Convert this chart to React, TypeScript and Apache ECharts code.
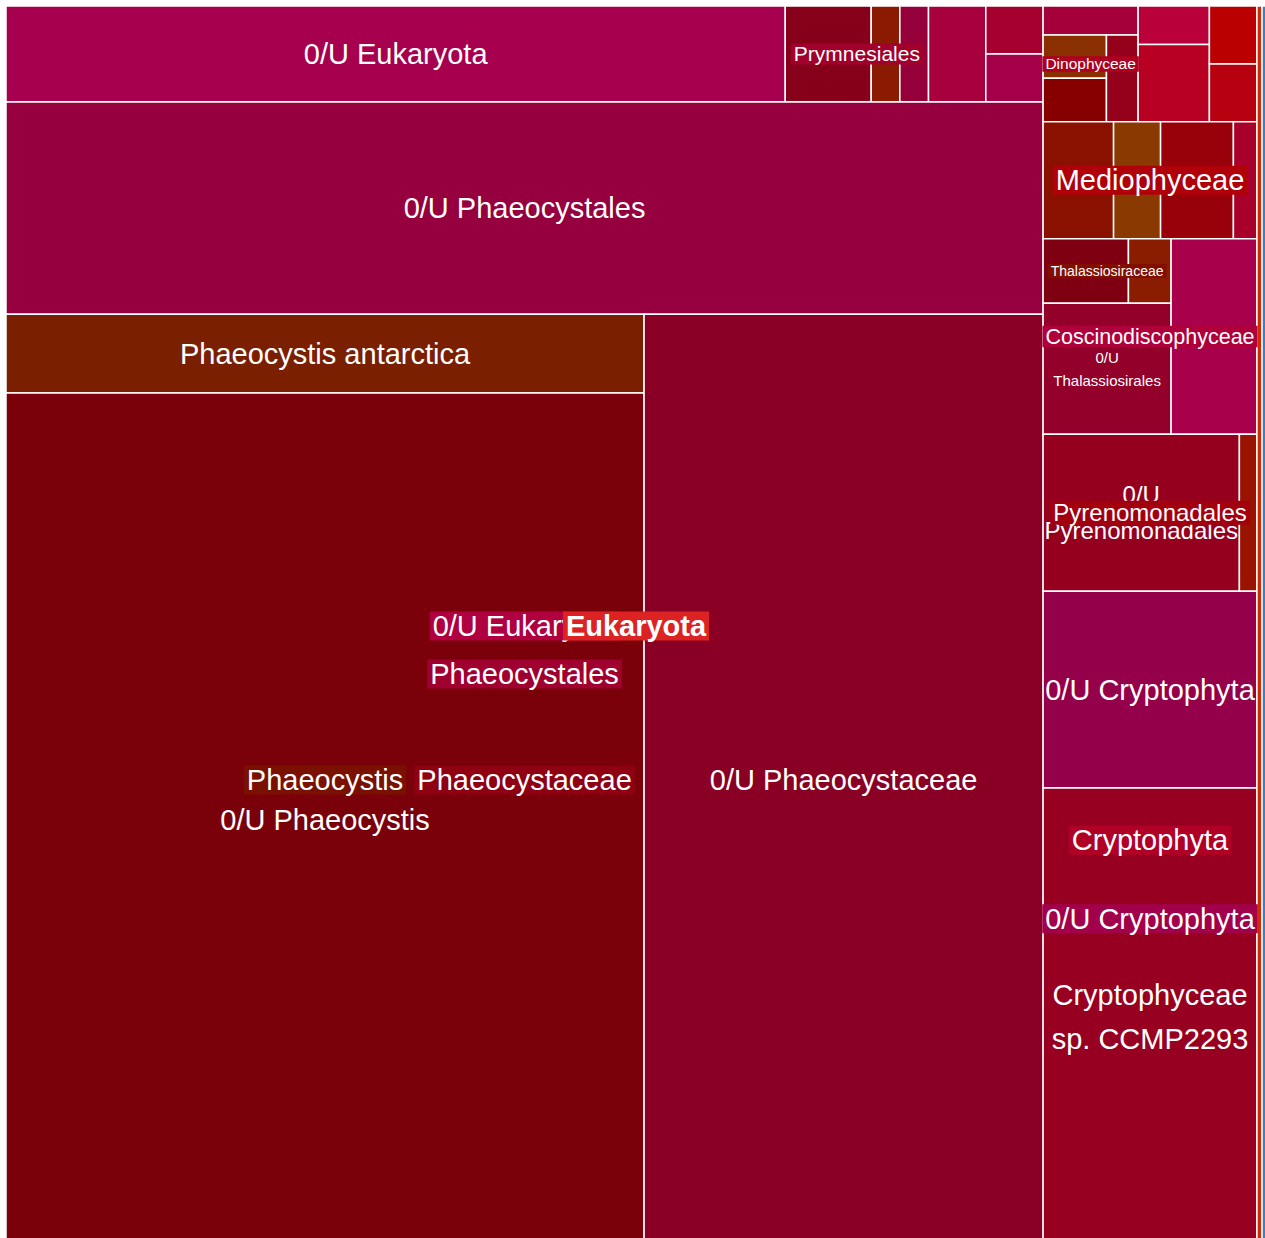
import React, { useEffect, useRef } from 'react';
import * as echarts from 'echarts';

// ---- Data: taxonomy tree (flat table: name, parent index, leaf value) ----
const nodeNames: string[] = [
  'Eukaryota', // 0
  '0/U Eukaryota', // 1 (group)
  'Prymnesiophyceae', // 2
  '0/U Eukaryota', // 3 (leaf)
  'Prymnesiales', // 4
  'Chrysochromulinaceae', // 5
  'Prymnesiaceae', // 6
  '0/U Prymnesiales', // 7
  'Isochrysidales', // 8
  'Coccolithales', // 9
  'Coccolithaceae', // 10
  'Pleurochrysidaceae', // 11
  'Phaeocystales', // 12
  '0/U Phaeocystales', // 13
  'Phaeocystaceae', // 14
  'Phaeocystis', // 15
  'Phaeocystis antarctica', // 16
  '0/U Phaeocystis', // 17
  '0/U Phaeocystaceae', // 18
  'Diaphoretickes', // 19
  'SAR', // 20
  'Alveolata', // 21
  'Dinophyceae', // 22
  'Gymnodiniales', // 23
  'Peridiniphycidae', // 24
  'Peridiniales group', // 25
  'Suessiales', // 26
  'Peridiniales', // 27
  '0/U Dinophyceae', // 28
  'Ciliophora', // 29
  'Spirotrichea', // 30
  'Oligohymenophorea', // 31
  'Syndiniales', // 32
  'Dino-Group I', // 33
  'Dino-Group II', // 34
  'Bacillariophyta', // 35
  'Mediophyceae', // 36
  'Chaetocerotales', // 37
  'Eupodiscales', // 38
  '0/U Mediophyceae', // 39
  'Cymatosirales', // 40
  'Coscinodiscophyceae', // 41
  'Thalassiosirales', // 42
  'Thalassiosiraceae', // 43
  'Thalassiosira', // 44
  'Skeletonema', // 45
  '0/U Thalassiosirales', // 46
  'Coscinodiscales', // 47
  'Cryptophyta', // 48
  'Pyrenomonadales', // 49
  '0/U Pyrenomonadales', // 50
  'Geminigeraceae', // 51
  '0/U Cryptophyta', // 52 (group)
  '0/U Cryptophyta', // 53 (leaf)
  'Cryptophyceae sp. CCMP2293', // 54
  'Chlorophyta', // 55
  'Discoba', // 56
];

const nodeParents: number[] = [
  -1, 0, 1, 2, 2, 4, 4, 4, 2, 2, 9, 9, 1, 12, 12, 14, 15, 15, 14,
  0, 19, 20, 21, 22, 22, 24, 25, 25, 24, 21, 29, 29, 21, 32, 32,
  20, 35, 36, 36, 36, 36, 35, 41, 42, 43, 43, 42, 41,
  19, 48, 49, 49, 48, 52, 52,
  0, 0,
];

// leaf abundances (0 for inner nodes)
const nodeValues: number[] = [
  0, 0, 0, 27.2, 0, 3.0, 1.0, 1.0, 2.0, 0, 1.0, 1.0, 0, 80.0, 0, 0, 18.3, 197.9, 135.2,
  0, 0, 0, 0, 1.0, 0, 0, 1.0, 1.0, 1.0, 0, 1.0, 2.0, 0, 1.0, 1.0,
  0, 0, 3.0, 2.0, 3.1, 1.0, 0, 0, 0, 2.0, 1.0, 6.1, 6.1,
  0, 0, 11.2, 1.0, 0, 15.3, 35.6,
  2.3, 1.8,
];

// ---- Styles ----
const tileColors: (string | null)[] = [
  null, null, null, '#A7004F', null, '#86001A', '#8A1A00', '#96003A', '#A8003F', null, '#A5002F', '#A5004A',
  null, '#96003F', null, null, '#7A1F00', '#7A0009', '#890024',
  null, null, null, null, '#A5003A', null, null, '#8A3000', '#870000', '#95001A', null, '#B9003A', '#B70022',
  null, '#BA0000', '#B70010',
  null, null, '#8A1000', '#8A3A00', '#98000A', '#A8002A', null, null, null, '#7F0010', '#8A1C00', '#93002A', '#A8004A',
  null, null, '#95001F', '#9A1200', null, '#95004B', '#970020',
  '#D22A00', '#3A80C0',
];

const labelSizes: number[] = [
  29, 29, 0, 29, 21, 0, 0, 0, 0, 0, 0, 0, 29, 29, 29, 29, 29, 29, 29,
  0, 0, 0, 15.5, 0, 0, 0, 0, 0, 0, 0, 0, 0, 0, 0, 0,
  0, 29, 0, 0, 0, 0, 21.5, 0, 14, 0, 0, 15, 0,
  29, 24, 24, 0, 29, 29, 29,
  0, 0,
];

const labelBackgrounds: (string | null)[] = [
  '#DC2222', '#B0003F', null, null, '#A2002C', null, null, null, null, null, null, null,
  '#A0002F', null, '#8E0012', '#7A1000', null, null, null,
  null, null, null, '#AE0020', null, null, null, null, null, null, null, null, null, null, null, null,
  null, '#B0000A', null, null, null, null, '#B0003C', null, '#820E00', null, null, null, null,
  '#B00025', '#A2000F', null, null, '#A2004A', null, null,
  null, null,
];

const FONT = "'Liberation Sans', Arial, Helvetica, sans-serif";

// ---- Tree helpers ----
const children: number[][] = nodeNames.map(() => []);
nodeParents.forEach((p, i) => {
  if (p >= 0) children[p].push(i);
});
const depths: number[] = nodeParents.map((_, i) => {
  let d = 0;
  let p = nodeParents[i];
  while (p >= 0) {
    d++;
    p = nodeParents[p];
  }
  return d;
});
function subtotal(i: number): number {
  if (!children[i].length) return nodeValues[i];
  return children[i].reduce((s, k) => s + subtotal(k), 0);
}
const totals: number[] = nodeNames.map((_, i) => subtotal(i));

// slice each node along its longer side, children in data order
function sliceLayout(sx: number, sy: number) {
  const rects: number[][] = [];
  const place = (i: number, x0: number, y0: number, x1: number, y1: number) => {
    rects[i] = [x0, y0, x1, y1];
    const kids = children[i];
    if (!kids.length) return;
    const wide = (x1 - x0) * sx >= (y1 - y0) * sy;
    const span = wide ? x1 - x0 : y1 - y0;
    let pos = wide ? x0 : y0;
    kids.forEach((k) => {
      const next = pos + (span * totals[k]) / totals[i];
      if (wide) place(k, pos, y0, next, y1);
      else place(k, x0, pos, x1, next);
      pos = next;
    });
  };
  place(0, 0, 0, 1, 1);
  return rects;
}

let measureCtx: CanvasRenderingContext2D | null = null;
function textWidth(text: string, font: string) {
  if (!measureCtx) measureCtx = document.createElement('canvas').getContext('2d');
  if (!measureCtx) return text.length * 10;
  measureCtx.font = font;
  return measureCtx.measureText(text).width;
}
function wrapText(text: string, font: string, maxW: number) {
  if (textWidth(text, font) <= maxW) return text;
  const words = text.split(' ');
  const lines: string[] = [];
  let cur = '';
  words.forEach((w) => {
    const test = cur ? cur + ' ' + w : w;
    if (!cur || textWidth(test, font) <= maxW) cur = test;
    else {
      lines.push(cur);
      cur = w;
    }
  });
  if (cur) lines.push(cur);
  return lines.join('\n');
}

export default function App() {
  const ref = useRef<HTMLDivElement>(null);
  useEffect(() => {
    if (!ref.current) return;
    const chart = echarts.init(ref.current, null, { renderer: 'svg' });
    let cache: { key: string; rects: number[][] } | null = null;
    const renderItem = (params: any, api: any) => {
      const i = params.dataIndex;
      const sz = api.size([1, 1]);
      const sx = Math.abs(sz[0]);
      const sy = Math.abs(sz[1]);
      const key = sx + '_' + sy;
      if (!cache || cache.key !== key) cache = { key, rects: sliceLayout(sx, sy) };
      const r = cache.rects[i];
      const p0 = api.coord([r[0], r[1]]);
      const p1 = api.coord([r[2], r[3]]);
      const x = Math.min(p0[0], p1[0]);
      const y = Math.min(p0[1], p1[1]);
      const w = Math.abs(p1[0] - p0[0]);
      const h = Math.abs(p1[1] - p0[1]);
      const isLeaf = children[i].length === 0;
      const els: any[] = [];
      if (isLeaf) {
        els.push({
          type: 'rect',
          shape: { x, y, width: w, height: h },
          style: { fill: tileColors[i] || '#999', stroke: '#ffffff', lineWidth: 1.5 },
          z2: 0,
        });
      }
      const size = labelSizes[i];
      if (size) {
        const bold = depths[i] === 0;
        const bg = labelBackgrounds[i];
        const font = `${bold ? 'bold' : 'normal'} ${size}px ${FONT}`;
        const content = isLeaf ? wrapText(nodeNames[i], font, w - 2) : nodeNames[i];
        const multi = content.indexOf('\n') >= 0;
        els.push({
          type: 'text',
          x: x + w / 2,
          y: y + h / 2,
          z2: isLeaf ? 50 : 200 - depths[i],
          style: {
            text: content,
            fill: '#ffffff',
            fontSize: size,
            fontFamily: FONT,
            fontWeight: bold ? 'bold' : 'normal',
            align: 'center',
            verticalAlign: 'middle',
            lineHeight: multi ? Math.round(size * 1.5) : size,
            backgroundColor: bg || undefined,
            padding: bg ? [0, 3] : 0,
          },
        });
      }
      if (!els.length) return null;
      return { type: 'group', children: els };
    };
    chart.setOption({
      animation: false,
      grid: { left: 6, top: 6, width: 1260, height: 1240 },
      xAxis: { type: 'value', min: 0, max: 1, show: false },
      yAxis: { type: 'value', min: 0, max: 1, inverse: true, show: false },
      tooltip: { show: false },
      series: [
        {
          type: 'custom',
          coordinateSystem: 'cartesian2d',
          clip: false,
          encode: { x: 0, y: 1 },
          data: nodeNames.map((name, i) => ({ name, value: [0, 0, totals[i]] })),
          renderItem,
        },
      ],
    });
    return () => chart.dispose();
  }, []);
  return (
    <div
      style={{ position: 'absolute', left: 0, top: 0, width: 1265, height: 1238, overflow: 'hidden', background: '#fff' }}
    >
      <div ref={ref} style={{ width: 1272, height: 1256 }} />
    </div>
  );
}
